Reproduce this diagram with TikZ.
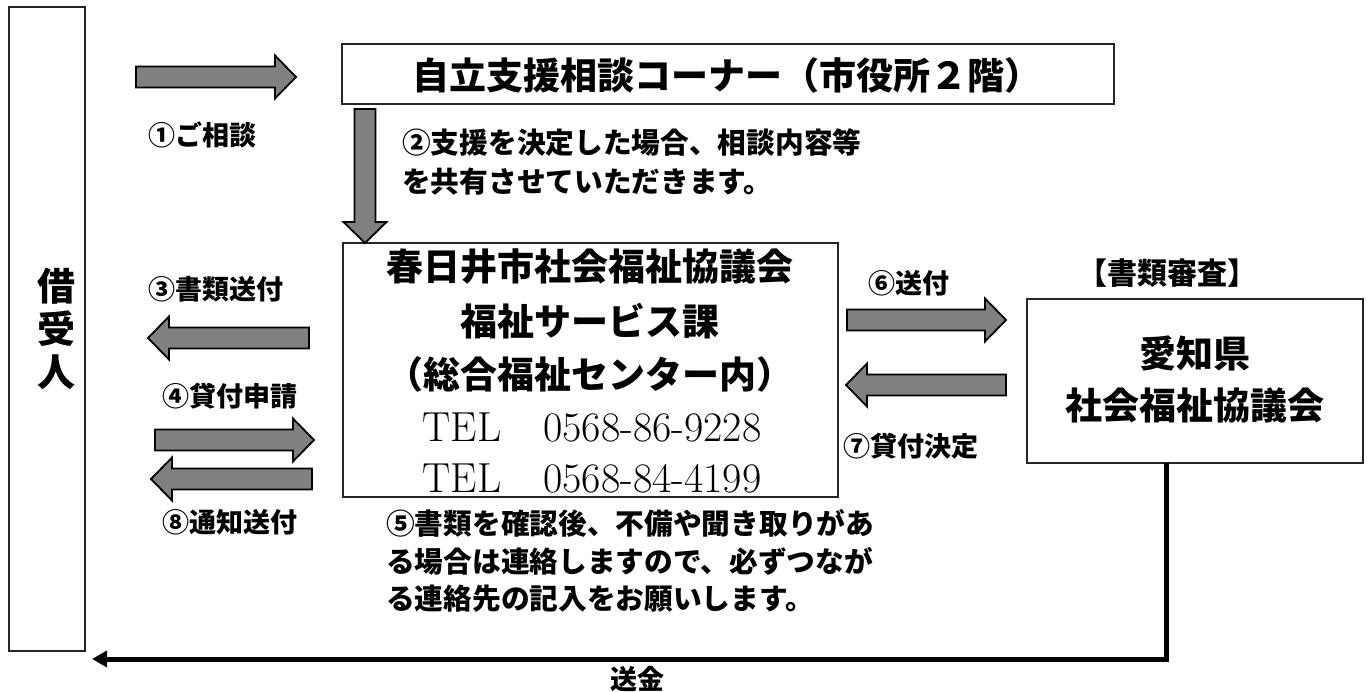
\documentclass[tikz,border=0pt]{standalone}
\usepackage{fontspec}
\newfontfamily\jp{Noto Sans CJK JP}
\usetikzlibrary{arrows.meta}
\tikzset{
  pics/barrow/.style={code={
    \path[blk] (0,-10.5) -- ({#1-21},-10.5) -- ({#1-21},-21.5) -- (#1,0) -- ({#1-21},21.5) -- ({#1-21},10.5) -- (0,10.5) -- cycle;}}
}
\begin{document}
\begin{tikzpicture}[x=1pt,y=-1pt,
  box/.style={draw=black!85, line width=1.3pt, inner sep=0pt},
  blk/.style={draw=black, line width=1.8pt, fill=black!50, line join=miter},
  big/.style={font=\jp\bfseries\fontsize{37}{40}\selectfont, inner sep=0pt},
  tel/.style={font=\fontsize{42}{44}\selectfont, inner sep=0pt},
  lbl/.style={font=\jp\bfseries\fontsize{27}{30}\selectfont, anchor=west, inner sep=0pt},
  note/.style={font=\jp\bfseries\fontsize{28.7}{30}\selectfont, anchor=west, inner sep=0pt},
  conn/.style={line width=5pt, -{Triangle[length=15pt,width=16pt]}}]
\useasboundingbox (0,0) rectangle (1367,692);
% boxes
\node[box, minimum width=76, minimum height=644] (borrower) at (47,329) {};
\node[big, align=center, font=\jp\bfseries\fontsize{38}{43}\selectfont] (borrowertext) at (56,329) {借\\受\\人};
\node[box, minimum width=772, minimum height=60] (corner) at (728,74) {};
\node[big] (cornertext) at (727,75) {自立支援相談コーナー（市役所２階）};
\node[box, minimum width=495, minimum height=254] (council) at (590.5,370) {};
\node[big] (c1) at (590,267) {春日井市社会福祉協議会};
\node[big] (c2) at (590,321) {福祉サービス課};
\node[big] (c3) at (590,374) {（総合福祉センター内）};
\node[tel] (c4) at (592,427) {TEL\hspace{1em}0568-86-9228};
\node[tel] (c5) at (592,478) {TEL\hspace{1em}0568-84-4199};
\node[box, minimum width=336, minimum height=164] (pref) at (1195,381) {};
\node[big] (p1) at (1195,353) {愛知県};
\node[big] (p2) at (1195,405) {社会福祉協議会};
\node[lbl, anchor=center, font=\jp\bfseries\fontsize{30}{32}\selectfont] (review) at (1167,273) {【書類審査】};
% block arrows
\pic at (136,77) {barrow=160};
\pic[rotate=-90] at (365,109) {barrow=134};
\pic[rotate=180] at (309,338) {barrow=161};
\pic at (155,440) {barrow=159};
\pic[rotate=180] at (312,479) {barrow=161};
\pic at (847,320) {barrow=159};
\pic[rotate=180] at (1006,385) {barrow=160};
% labels
\node[lbl] (l1) at (148,135) {①ご相談};
\node[note] (l2a) at (402,143) {②支援を決定した場合、相談内容等};
\node[note] (l2b) at (402,182) {を共有させていただきます。};
\node[lbl] (l3) at (148,289) {③書類送付};
\node[lbl] (l4) at (162,396) {④貸付申請};
\node[lbl] (l8) at (162,522) {⑧通知送付};
\node[lbl] (l6) at (868,283) {⑥送付};
\node[lbl] (l7) at (843,446) {⑦貸付決定};
\node[note] (l5a) at (386,523) {⑤書類を確認後、不備や聞き取りがあ};
\node[note] (l5b) at (386,561) {る場合は連絡しますので、必ずつなが};
\node[note] (l5c) at (386,599) {る連絡先の記入をお願いします。};
% remittance
\coordinate (sendstart) at (1166,463);
\coordinate (sendend) at (92,659);
\draw[conn] (sendstart) |- (sendend);
\node[lbl, anchor=center] (sendlbl) at (637,679) {送金};
\end{tikzpicture}
\end{document}
